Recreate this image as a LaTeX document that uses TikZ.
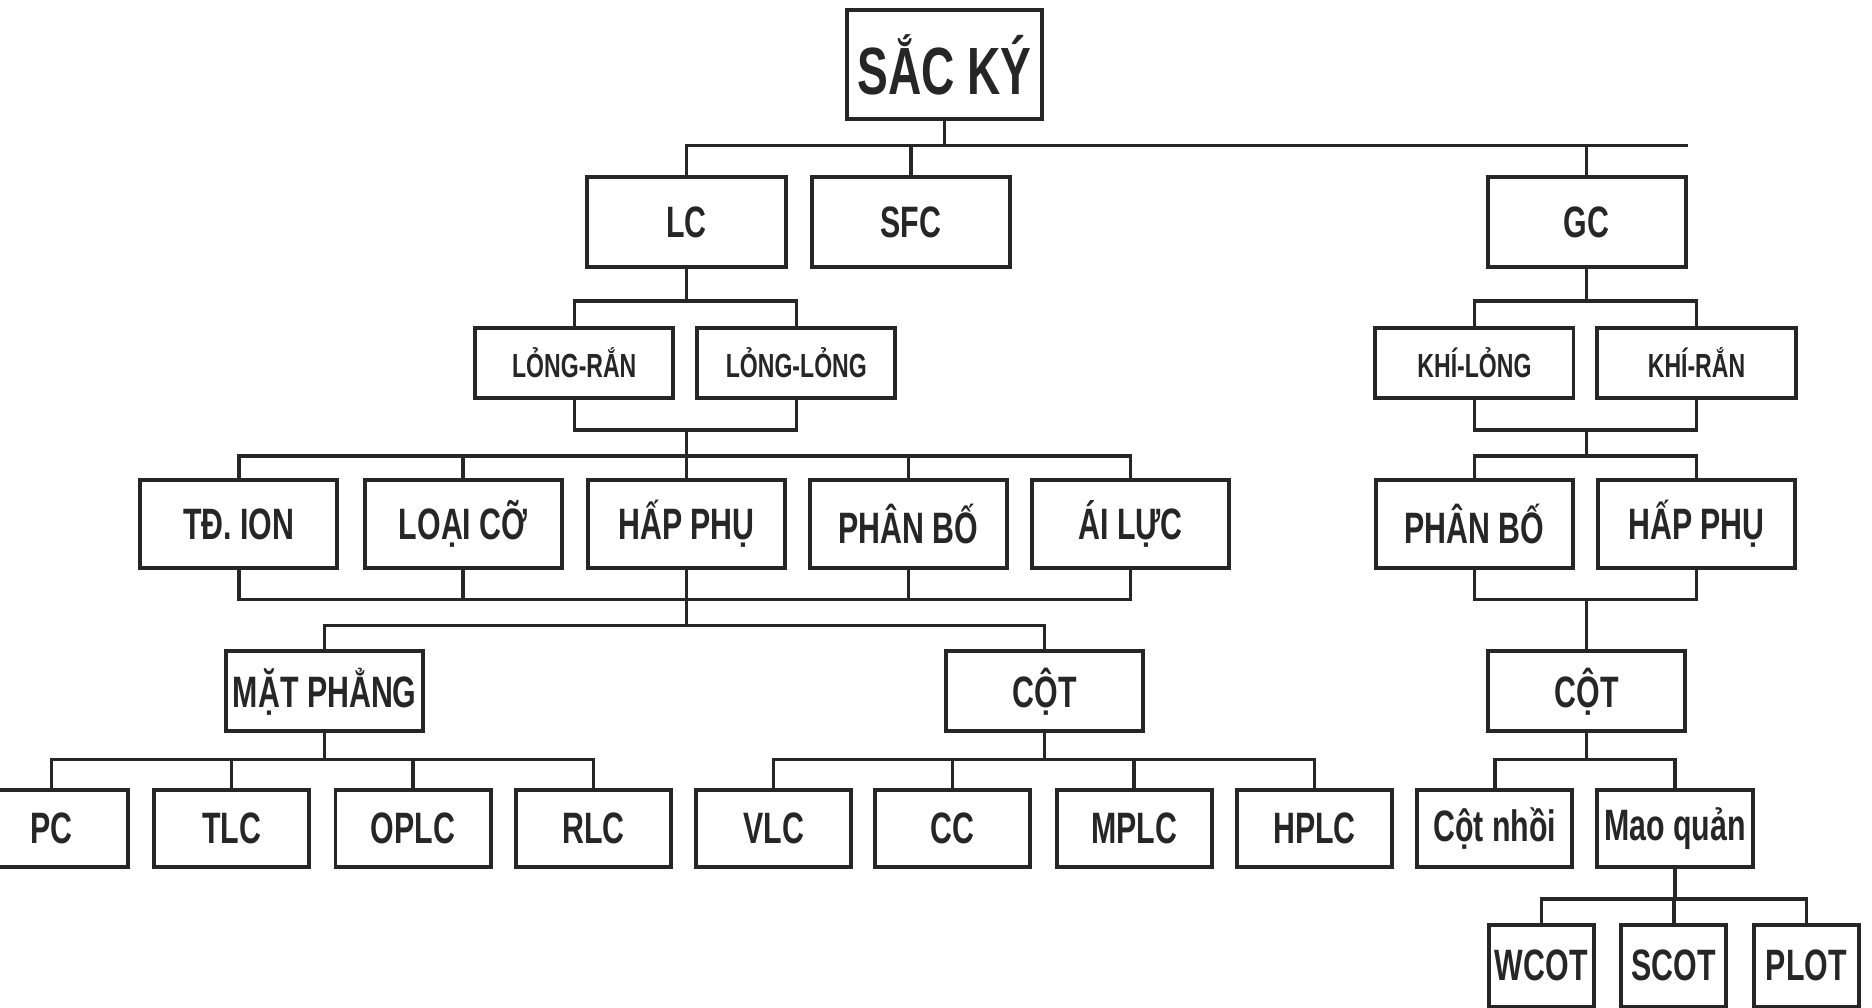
\documentclass[tikz,border=0pt]{standalone}
\usepackage{fontspec}
\setmainfont[FakeStretch=0.69]{Liberation Sans}

\def\pxu{0.01194cm}
\tikzset{
  box/.style={draw=black!85, line width=1.1pt, inner sep=0pt, fill=white, text=black!85,
    font=\bfseries\fontsize{12.5}{14}\selectfont, minimum width=165*\pxu, minimum height=74*\pxu},
  topbox/.style={box, font=\bfseries\fontsize{19}{22}\selectfont, minimum width=163*\pxu, minimum height=91*\pxu},
  kindbox/.style={box, minimum width=166*\pxu, minimum height=76*\pxu},
  phasebox/.style={box, font=\bfseries\fontsize{9.5}{11}\selectfont, minimum width=166*\pxu, minimum height=59*\pxu},
  modebox/.style={box, minimum height=67*\pxu},
  leafbox/.style={box, minimum width=130*\pxu, minimum height=65*\pxu},
  tinybox/.style={box, minimum width=88*\pxu, minimum height=68*\pxu},
  link/.style={draw=black!85, line width=1pt}
}

\begin{document}
\begin{tikzpicture}[x=0.01194cm, y=-0.01194cm]
\useasboundingbox (0,0) rectangle (1568,844);

% goc
\node[topbox] (sacky) at (791,54) {SẮC KÝ};

% LC, SFC, GC
\node[kindbox] (lc) at (575,186) {LC};
\node[kindbox] (sfc) at (763,186) {SFC};
\node[kindbox] (gc) at (1329,186) {GC};

% pha
\node[phasebox] (lr) at (481,304) {LỎNG-RẮN};
\node[phasebox] (ll) at (667,304) {LỎNG-LỎNG};
\node[phasebox] (kl) at (1235,304) {KHÍ-LỎNG};
\node[phasebox] (kr) at (1421,304) {KHÍ-RẮN};

% co che
\node[box] (tdion) at (200,439) {TĐ. ION};
\node[box] (loaico) at (388,439) {LOẠI CỠ};
\node[box] (happhu) at (575,439) {HẤP PHỤ};
\node[box] (phanbo) at (761,439) {PHÂN BỐ};
\node[box] (ailuc) at (947,439) {ÁI LỰC};
\node[box] (phanbogc) at (1235,439) {PHÂN BỐ};
\node[box] (happhugc) at (1421,439) {HẤP PHỤ};

% kieu
\node[modebox] (matphang) at (272,579) {MẶT PHẲNG};
\node[modebox] (cot) at (875,579) {CỘT};
\node[modebox] (cotgc) at (1329,579) {CỘT};

% la
\node[leafbox, minimum width=128*\pxu] (pc) at (43,694) {PC};
\node[leafbox] (tlc) at (194,694) {TLC};
\node[leafbox] (oplc) at (346,694) {OPLC};
\node[leafbox] (rlc) at (497,694) {RLC};
\node[leafbox] (vlc) at (648,694) {VLC};
\node[leafbox] (cc) at (798,694) {CC};
\node[leafbox] (mplc) at (950,694) {MPLC};
\node[leafbox] (hplc) at (1101,694) {HPLC};
\node[leafbox] (cotnhoi) at (1252,694) {Cột nhồi};
\node[leafbox] (maoquan) at (1403,694) {Mao quản};

\node[tinybox] (wcot) at (1291,809) {WCOT};
\node[tinybox] (scot) at (1402,809) {SCOT};
\node[tinybox] (plot) at (1513,809) {PLOT};

% noi
\coordinate (b0) at (791,122);
\draw[link] (sacky.south) -- (b0);
\draw[link] (lc.north) |- (b0) -| (gc.north);
\draw[link] (gc.north |- b0) -- (gc.north east |- b0);
\draw[link] (sfc.north) -- (sfc.north |- b0);

\coordinate (b1) at (575,252);
\draw[link] (lc.south) -- (b1);
\draw[link] (lr.north) |- (b1) -| (ll.north);
\coordinate (b2) at (575,360);
\draw[link] (lr.south) |- (b2) -| (ll.south);
\coordinate (b3) at (575,382);
\draw[link] (b2) -- (b3);
\draw[link] (tdion.north) |- (b3) -| (ailuc.north);
\foreach \n in {loaico,happhu,phanbo}
  \draw[link] (\n.north) -- (\n.north |- b3);

\coordinate (b4) at (575,502);
\draw[link] (tdion.south) |- (b4) -| (ailuc.south);
\foreach \n in {loaico,happhu,phanbo}
  \draw[link] (\n.south) -- (\n.south |- b4);
\coordinate (b5) at (575,524);
\draw[link] (b4) -- (b5);
\draw[link] (matphang.north) |- (b5) -| (cot.north);

\coordinate (b6) at (272,636);
\draw[link] (matphang.south) -- (b6);
\draw[link] (pc.north) |- (b6) -| (rlc.north);
\foreach \n in {tlc,oplc}
  \draw[link] (\n.north) -- (\n.north |- b6);
\coordinate (b7) at (875,636);
\draw[link] (cot.south) -- (b7);
\draw[link] (vlc.north) |- (b7) -| (hplc.north);
\foreach \n in {cc,mplc}
  \draw[link] (\n.north) -- (\n.north |- b7);

\coordinate (b8) at (1329,252);
\draw[link] (gc.south) -- (b8);
\draw[link] (kl.north) |- (b8) -| (kr.north);
\coordinate (b9) at (1329,360);
\draw[link] (kl.south) |- (b9) -| (kr.south);
\coordinate (b10) at (1329,382);
\draw[link] (b9) -- (b10);
\draw[link] (phanbogc.north) |- (b10) -| (happhugc.north);
\coordinate (b11) at (1329,502);
\draw[link] (phanbogc.south) |- (b11) -| (happhugc.south);
\draw[link] (b11) -- (cotgc.north);

\coordinate (b12) at (1329,636);
\draw[link] (cotgc.south) -- (b12);
\draw[link] (cotnhoi.north) |- (b12) -| (maoquan.north);
\coordinate (b13) at (1403,753);
\draw[link] (maoquan.south) -- (b13);
\draw[link] (wcot.north) |- (b13) -| (plot.north);
\draw[link] (scot.north) -- (scot.north |- b13);
\end{tikzpicture}
\end{document}
